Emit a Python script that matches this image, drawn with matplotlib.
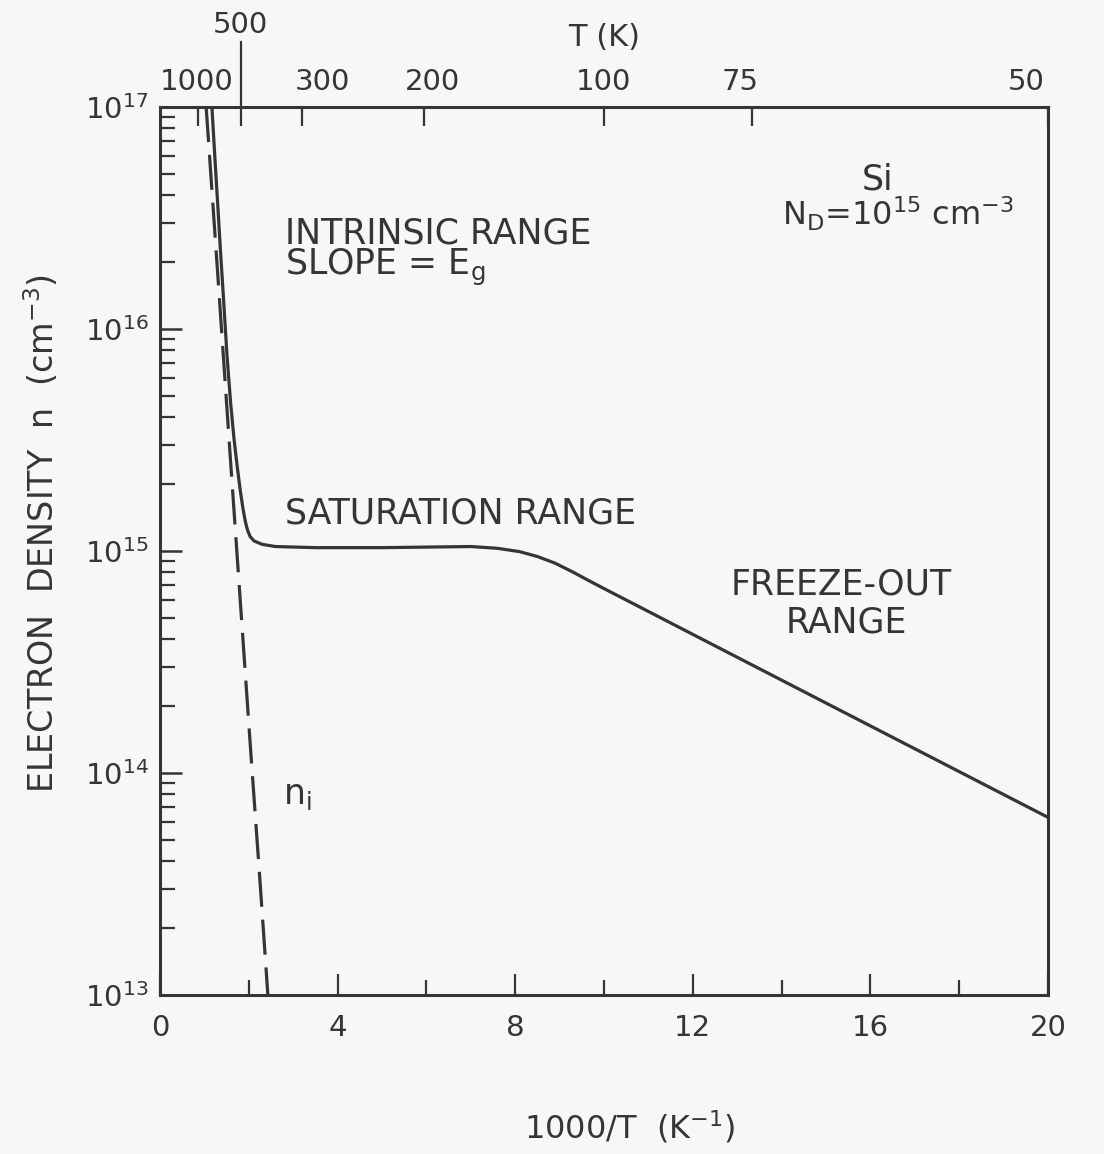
import numpy as np
import matplotlib.pyplot as plt
from matplotlib.ticker import LogLocator, MultipleLocator, NullFormatter

# ── data (log10 of density vs 1000/T) ─────────────────────────────────────────
inv_t_n = [1.17, 1.24, 1.31, 1.36, 1.43, 1.51, 1.59, 1.67, 1.74, 1.81, 1.87,
           1.92, 1.97, 2.03, 2.12, 2.3, 2.6, 3.5, 5.0, 7.0, 7.6, 8.1, 8.5,
           8.9, 9.3, 9.7, 10.2, 15.0, 20.0]
log_n   = [17.0, 16.76, 16.53, 16.36, 16.14, 15.88, 15.67, 15.5, 15.38, 15.27,
           15.19, 15.135, 15.095, 15.065, 15.045, 15.03, 15.02, 15.015, 15.015,
           15.02, 15.012, 14.997, 14.975, 14.945, 14.905, 14.862, 14.81, 14.315,
           13.80]

inv_t_ni = [1.04, 1.30, 1.55, 1.80, 2.05, 2.25, 2.43]
log_ni   = [17.0, 16.25, 15.52, 14.80, 14.08, 13.52, 13.0]

# temperature scale along the top
temp_labels   = ["1000", "500", "300", "200", "100", "75", "50"]
temp_tick_pos = [0.85, 1.82, 3.2, 5.95, 10.0, 13.33, 20.0]

# ── style ─────────────────────────────────────────────────────────────────────
INK   = "#353535"
PAPER = "#f7f7f5"
plt.rcParams["font.family"] = "DejaVu Sans"
plt.rcParams["mathtext.fontset"] = "dejavusans"

fig = plt.figure(figsize=(11.04, 11.54), dpi=100, facecolor=PAPER)
ax = fig.add_axes([0.1449, 0.1378, 0.8044, 0.7695], facecolor=PAPER)

n  = 10.0 ** np.array(log_n)
ni = 10.0 ** np.array(log_ni)
ax.plot(inv_t_n, n, color=INK, lw=2.3, solid_joinstyle="round")
ax.plot(inv_t_ni, ni, color=INK, lw=2.3, dashes=(11, 4))

ax.set_yscale("log")
ax.set_xlim(0, 20)
ax.set_ylim(1e13, 1e17)

for sp in ax.spines.values():
    sp.set_linewidth(2.2)
    sp.set_color(INK)

ax.xaxis.set_major_locator(MultipleLocator(4))
ax.xaxis.set_minor_locator(MultipleLocator(2))
ax.yaxis.set_major_locator(LogLocator(base=10, numticks=10))
ax.yaxis.set_minor_locator(LogLocator(base=10, subs=np.arange(2, 10), numticks=10))
ax.yaxis.set_minor_formatter(NullFormatter())
ax.tick_params(which="both", direction="in", top=False, right=False,
               colors=INK, labelsize=21)
ax.tick_params(axis="y", which="major", length=16, width=1.8, pad=8)
ax.tick_params(axis="y", which="minor", length=11, width=1.6)
ax.tick_params(axis="x", which="major", length=15, width=1.6, pad=14)
ax.tick_params(axis="x", which="minor", length=11, width=1.6)

# top axis: temperature
ax2 = ax.twiny()
ax2.set_xlim(ax.get_xlim())
ax2.set_xticks(temp_tick_pos)
ax2.set_xticklabels([])
ax2.tick_params(direction="in", length=14, width=1.6, colors=INK)
for sp in ax2.spines.values():
    sp.set_visible(False)

xt = ax.get_xaxis_transform()
label_x = [0.83, 1.8, 3.65, 6.13, 10.0, 13.06, 19.5]
for lab, lx in zip(temp_labels, label_x):
    ty = 1.092 if lab == "500" else 1.028
    ax.text(lx, ty, lab, transform=xt, ha="center", va="center",
            fontsize=21, color=INK, clip_on=False)
x500 = temp_tick_pos[temp_labels.index("500")]
ax.plot([x500, x500], [1.0, 1.073], transform=xt, clip_on=False, color=INK, lw=1.6)
ax.text(10.0, 1.078, "T (K)", transform=xt, ha="center", va="center",
        fontsize=22, color=INK)

# axis titles
ax.set_ylabel("ELECTRON  DENSITY  n  (cm$^{-3}$)", fontsize=24, color=INK)
ax.yaxis.set_label_coords(-0.112, 0.52)
ax.set_xlabel("1000/T  (K$^{-1}$)", fontsize=23, color=INK)
ax.xaxis.set_label_coords(0.529, -0.128)

# region annotations
txt = dict(transform=ax.transAxes, fontsize=25, color=INK, va="baseline")
ax.text(0.1408, 0.8468, "INTRINSIC RANGE", ha="left", **txt)
ax.text(0.1408, 0.8108, r"SLOPE = E$_\mathrm{g}$", ha="left", **txt)
ax.text(0.1408, 0.5315, "SATURATION RANGE", ha="left", **txt)
ax.text(0.767, 0.4505, "FREEZE-OUT", ha="center", **txt)
ax.text(0.7725, 0.4077, "RANGE", ha="center", **txt)
ax.text(0.8086, 0.9075, "Si", ha="center", **txt)
ax.text(0.7005, 0.8665, r"N$_\mathrm{D}$=10$^{15}$ cm$^{-3}$", ha="left",
        **{**txt, "fontsize": 23})
ax.text(0.1385, 0.215, r"n$_\mathrm{i}$", ha="left", **txt)

fig.savefig("out.png", dpi=100, facecolor=PAPER)
